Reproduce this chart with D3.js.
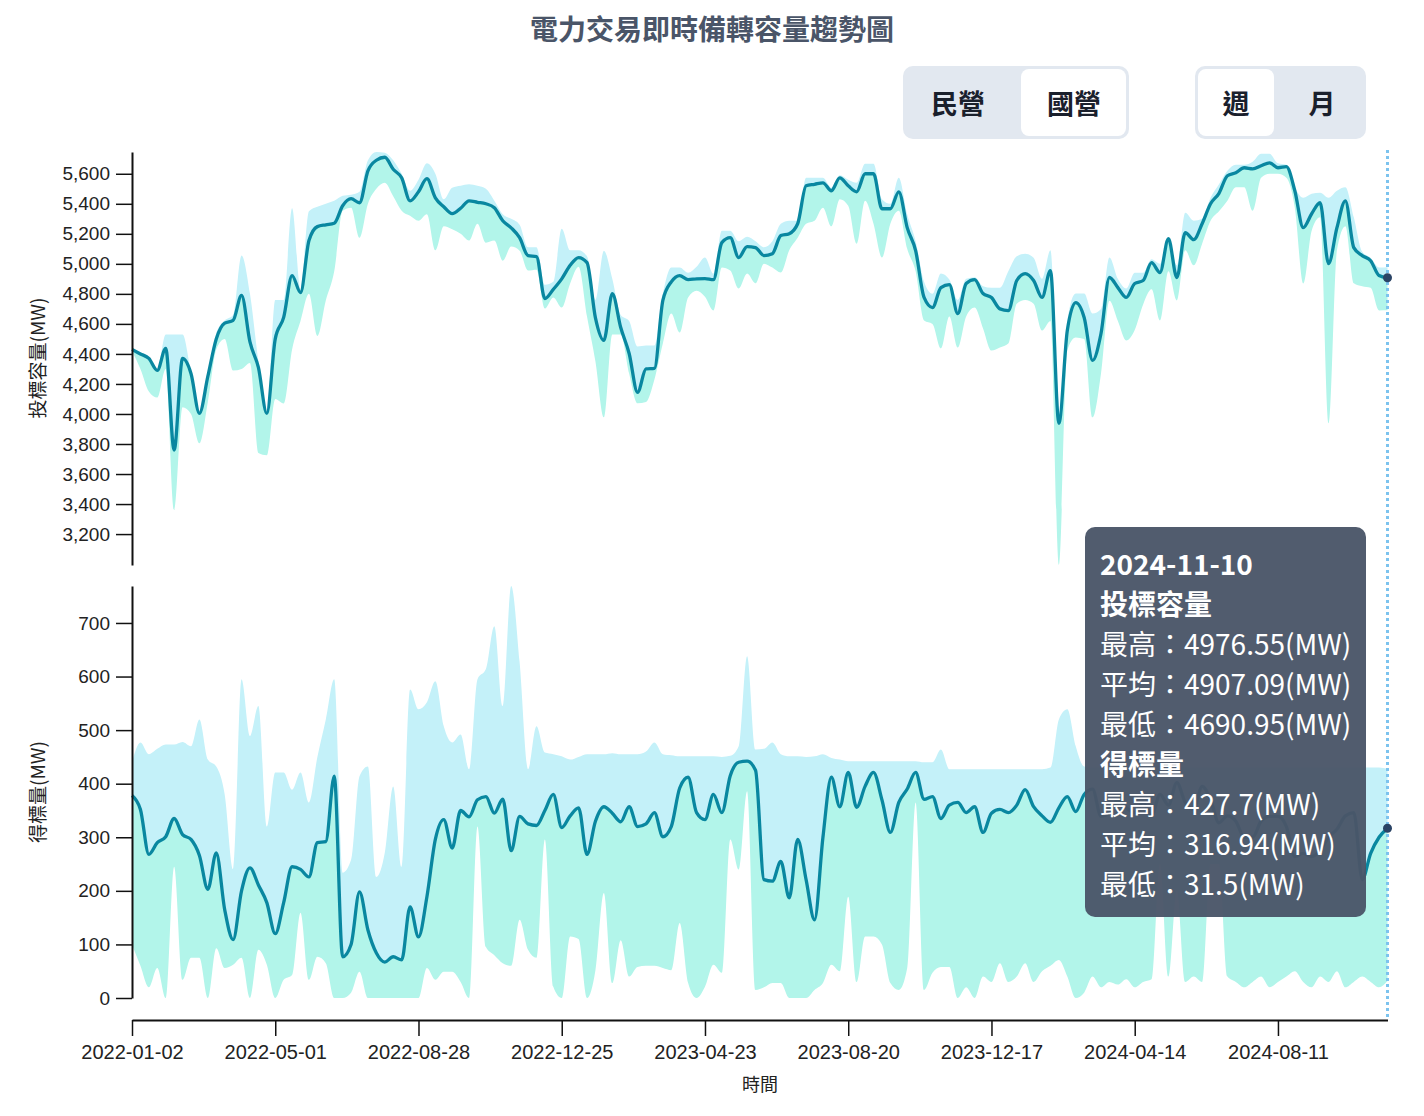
<!DOCTYPE html>
<html><head><meta charset="utf-8">
<script src="https://cdn.jsdelivr.net/npm/d3@7"></script>
<style>
body{margin:0;background:#fff;}
svg{display:block;}
.axis text{font-family:"Liberation Sans",Arial,sans-serif;fill:#222;}
</style>
</head><body><svg id="chart" width="1424" height="1116"></svg>
<script>
const startWeek = "2022-01-02";
const endWeek = "2024-11-10";
const tickLabels = ["2022-01-02","2022-05-01","2022-08-28","2022-12-25","2023-04-23","2023-08-20","2023-12-17","2024-04-14","2024-08-11"];
const bidTicks = [3200,3400,3600,3800,4000,4200,4400,4600,4800,5000,5200,5400,5600];
const awardTicks = [0,100,200,300,400,500,600,700];

const bidAvg = [4430,4400,4370,4290,4437,3760,4370,4270,4004,4250,
4500,4605,4623,4790,4480,4310,4004,4500,4643,4922,
4809,5155,5248,5260,5270,5387,5434,5407,5620,5690,
5710,5630,5573,5420,5480,5567,5440,5380,5334,5370,
5420,5410,5400,5374,5287,5240,5174,5055,5048,4769,
4830,4900,4990,5042,5008,4640,4490,4802,4576,4403,
4144,4300,4304,4756,4880,4922,4895,4900,4902,4895,
5141,5174,5042,5115,5108,5055,5068,5188,5201,5267,
5520,5530,5540,5487,5573,5520,5480,5600,5600,5367,
5367,5480,5241,5088,4776,4709,4842,4862,4669,4869,
4895,4802,4776,4700,4689,4889,4935,4889,4776,4955,
3938,4556,4742,4643,4357,4536,4909,4842,4776,4869,
4889,5008,4942,5168,4909,5208,5161,5267,5400,5470,
5587,5607,5640,5633,5653,5673,5640,5647,5487,5241,
5334,5407,5001,5241,5420,5108,5055,5021,4922,4907.09];
const bidMax = [4440,4410,4380,4300,4530,4530,4530,4280,4010,4260,
4540,4623,4660,5055,4800,4350,4010,4760,4760,5370,
4830,5350,5380,5400,5420,5453,5460,5480,5690,5745,
5740,5690,5600,5487,5560,5670,5600,5430,5507,5520,
5530,5520,5500,5420,5330,5300,5260,5110,5110,4860,
4880,5234,5090,5090,5050,4760,5088,4900,4660,4620,
4450,4456,4456,4800,4975,4975,4940,4980,5042,4935,
5221,5221,5150,5180,5150,5110,5150,5267,5287,5287,
5573,5573,5573,5507,5590,5560,5540,5666,5666,5430,
5400,5573,5330,5150,4880,4800,4935,4895,4760,4900,
4910,4850,4840,4840,4950,5050,5068,5040,4900,5090,
4000,4620,4802,4802,4669,4700,5042,4900,4835,4940,
4940,5030,5000,5174,4990,5340,5287,5300,5440,5530,
5620,5660,5660,5680,5733,5733,5670,5660,5510,5440,
5467,5473,5440,5487,5510,5310,5080,5040,4975,4976.55];
const bidMin = [4420,4300,4150,4110,4300,3360,4044,4000,3805,4080,
4430,4500,4290,4300,4340,3740,3725,4100,4070,4430,
4620,4800,4520,4756,4950,5354,5374,5174,5400,5500,
5540,5450,5354,5320,5287,5330,5090,5250,5230,5200,
5155,5267,5141,5155,5021,5115,5088,4955,4960,4702,
4776,4709,4869,4980,4650,4350,3978,4530,4530,4270,
4071,4080,4230,4470,4669,4543,4776,4820,4780,4689,
4975,4955,4835,4935,4870,5001,4975,4942,5090,5174,
5267,5287,5374,5250,5430,5387,5134,5420,5267,5042,
5267,5354,5100,4950,4623,4600,4437,4650,4443,4650,
4709,4570,4423,4443,4470,4735,4760,4735,4556,4620,
2995,4423,4510,4500,3978,4270,4755,4620,4490,4560,
4730,4830,4623,4950,4756,5090,4990,5134,5287,5350,
5420,5510,5510,5354,5573,5600,5600,5573,5374,4869,
5221,5310,3938,5090,5250,4870,4850,4840,4690,4690.95];

const awardAvg = [378,352,268,290,301,335,305,296,266,203,
271,165,109,200,243,211,178,120,178,245,
240,226,290,292,414,77,100,198,127,84,
67,77,71,170,114,189,296,333,280,350,
338,370,376,345,371,275,339,325,322,350,
380,318,340,355,268,330,357,345,329,357,
320,325,346,301,320,392,412,346,333,380,
346,415,440,442,425,221,218,255,187,296,
221,146,300,412,357,421,356,395,421,370,
309,365,390,421,371,376,335,360,365,346,
357,309,345,352,346,360,389,357,340,328,
355,376,348,380,390,339,345,370,355,346,
365,340,380,360,402,365,352,395,370,327,
340,330,300,300,330,339,339,320,264,270,
264,275,300,315,340,346,221,270,300,316.94];
const awardMax = [440,477,455,465,473,473,478,470,520,445,
432,380,240,595,489,545,320,421,421,389,
421,365,450,520,595,234,258,414,432,226,
271,395,245,576,539,552,591,507,477,492,
427,595,614,694,545,769,627,427,507,458,
455,451,445,450,455,455,455,457,455,455,
455,460,477,455,453,451,451,451,451,451,
450,452,470,638,464,465,477,455,451,451,
450,451,455,448,445,442,442,442,442,442,
442,442,442,442,440,440,464,427,427,427,
427,427,427,427,427,427,427,427,427,430,
520,539,470,432,430,430,430,430,430,430,
430,430,430,430,430,430,430,430,430,430,
430,430,430,430,430,430,430,430,430,430,
430,430,430,430,430,430,430,430,430,427.7];
const awardMin = [100,60,20,56,0,245,34,75,75,0,
93,56,62,75,0,90,62,0,34,43,
159,34,77,65,0,0,10,49,0,0,
0,0,0,0,0,56,34,49,49,30,
0,320,95,80,65,60,146,90,75,296,
21,0,115,110,0,52,196,28,108,40,
58,60,60,56,52,140,28,0,21,62,
47,296,240,386,15,20,28,28,0,0,
0,15,28,62,50,189,30,115,115,100,
28,15,56,365,15,47,58,58,0,20,
0,40,30,65,30,40,65,30,50,60,
71,40,0,10,40,20,30,25,35,20,
30,35,250,40,200,30,40,30,250,250,
40,30,20,30,40,20,30,40,50,30,
20,40,30,50,20,30,40,30,20,31.5];

const parse = d3.utcParse("%Y-%m-%d");
const fmt = d3.utcFormat("%Y-%m-%d");
const dates = d3.utcWeek.range(parse(startWeek), d3.utcDay.offset(parse(endWeek), 1));
const bidData = dates.map((d,i)=>({date:d, avg:bidAvg[i], max:bidMax[i], min:bidMin[i]}));
const awardData = dates.map((d,i)=>({date:d, avg:awardAvg[i], max:awardMax[i], min:awardMin[i]}));

const svg = d3.select("#chart");
const C = {line:"#0987A0", upper:"#C4F1F9", lower:"#B2F5EA", text:"#4A5568"};

// title
svg.append("text").attr("x",712).attr("y",40).attr("text-anchor","middle")
  .attr("font-family","'Noto Sans CJK TC',sans-serif").attr("font-size",28).attr("font-weight","bold")
  .attr("fill",C.text).text("電力交易即時備轉容量趨勢圖");

// toggle buttons
function toggle(x0, w, parts){
  const g = svg.append("g");
  g.append("rect").attr("x",x0).attr("y",66).attr("width",w).attr("height",73).attr("rx",10)
    .attr("fill","#E2E8F0");
  parts.forEach(p=>{
    if(p.active){
      g.append("rect").attr("x",p.x).attr("y",69).attr("width",p.w).attr("height",67).attr("rx",8)
        .attr("fill","#fff");
    }
    g.append("text").attr("x",p.cx).attr("y",114).attr("text-anchor","middle")
      .attr("font-family","'Noto Sans CJK TC',sans-serif").attr("font-size",27).attr("font-weight","bold")
      .attr("fill","#1A202C").text(p.label);
  });
}
toggle(903,226,[{label:"民營",x:906,w:110,cx:958,active:false},{label:"國營",x:1021,w:105,cx:1074,active:true}]);
toggle(1195,171,[{label:"週",x:1198,w:76,cx:1236,active:true},{label:"月",x:1278,w:84,cx:1322,active:false}]);

const x = d3.scaleUtc().domain([dates[0], dates[dates.length-1]]).range([132, 1387.5]);
const yTop = d3.scaleLinear().domain([2994, d3.max(bidMax)]).range([565, 152]);
const yBot = d3.scaleLinear().domain([0, d3.max(awardMax)]).range([998, 586]);

function panel(data, y){
  const g = svg.append("g");
  g.append("path").datum(data).attr("fill",C.upper)
    .attr("d", d3.area().curve(d3.curveMonotoneX).x(d=>x(d.date)).y0(d=>y(d.avg)).y1(d=>y(d.max)));
  g.append("path").datum(data).attr("fill",C.lower)
    .attr("d", d3.area().curve(d3.curveMonotoneX).x(d=>x(d.date)).y0(d=>y(d.min)).y1(d=>y(d.avg)));
  g.append("path").datum(data).attr("fill","none").attr("stroke",C.line).attr("stroke-width",3.3)
    .attr("stroke-linejoin","round")
    .attr("d", d3.line().curve(d3.curveMonotoneX).x(d=>x(d.date)).y(d=>y(d.avg)));
}
panel(bidData, yTop);
panel(awardData, yBot);

function styleAxis(g){
  g.attr("class","axis");
  g.select(".domain").attr("stroke","#111").attr("stroke-width",2);
  g.selectAll(".tick line").attr("stroke","#111").attr("stroke-width",1.5);
  g.selectAll(".tick text").attr("font-size",19);
}
svg.append("g").attr("transform","translate(132,0)")
  .call(d3.axisLeft(yTop).tickValues(bidTicks).tickFormat(d3.format(",")).tickSize(16).tickPadding(6).tickSizeOuter(0))
  .call(styleAxis);
svg.append("g").attr("transform","translate(132,0)")
  .call(d3.axisLeft(yBot).tickValues(awardTicks).tickSize(16).tickPadding(6).tickSizeOuter(0))
  .call(styleAxis);
const xAxis = svg.append("g").attr("transform","translate(0,1020)")
  .call(d3.axisBottom(x).tickValues(tickLabels.map(parse)).tickFormat(fmt).tickSize(16).tickPadding(9).tickSizeOuter(0))
  .call(styleAxis);
xAxis.selectAll(".tick text").attr("font-size",20);

// axis titles
svg.append("text").attr("transform","translate(45,358) rotate(-90)").attr("text-anchor","middle")
  .attr("font-family","'Noto Sans CJK TC',sans-serif").attr("font-size",19).attr("fill","#222").text("投標容量(MW)");
svg.append("text").attr("transform","translate(45,792) rotate(-90)").attr("text-anchor","middle")
  .attr("font-family","'Noto Sans CJK TC',sans-serif").attr("font-size",19).attr("fill","#222").text("得標量(MW)");
svg.append("text").attr("x",760).attr("y",1091).attr("text-anchor","middle")
  .attr("font-family","'Noto Sans CJK TC',sans-serif").attr("font-size",18).attr("fill","#222").text("時間");

// hover marker on last week
const last = dates.length-1;
const hx = x(dates[last]);
svg.append("line").attr("x1",hx).attr("x2",hx).attr("y1",150).attr("y2",1018)
  .attr("stroke","#7CC3EE").attr("stroke-width",3).attr("stroke-dasharray","3,3");
svg.append("circle").attr("cx",hx).attr("cy",yTop(bidAvg[last])).attr("r",4.5).attr("fill","#2A4365");
svg.append("circle").attr("cx",hx).attr("cy",yBot(awardAvg[last])).attr("r",4.5).attr("fill","#2A4365");

// tooltip
const tip = svg.append("g");
tip.append("rect").attr("x",1085).attr("y",527).attr("width",281).attr("height",390).attr("rx",10)
  .attr("fill","#4A5568").attr("opacity",0.96);
const lines = [
  {t:fmt(dates[last]), b:true},
  {t:"投標容量", b:true},
  {t:`最高：${bidMax[last]}(MW)`},
  {t:`平均：${bidAvg[last]}(MW)`},
  {t:`最低：${bidMin[last]}(MW)`},
  {t:"得標量", b:true},
  {t:`最高：${awardMax[last]}(MW)`},
  {t:`平均：${awardAvg[last]}(MW)`},
  {t:`最低：${awardMin[last]}(MW)`}
];
lines.forEach((l,i)=>{
  tip.append("text").attr("x",1100).attr("y",575+i*40)
    .attr("font-family","'Noto Sans CJK TC',sans-serif").attr("font-size",28)
    .attr("font-weight",l.b?"bold":"normal").attr("fill","#fff").text(l.t);
});
</script>
</body></html>
